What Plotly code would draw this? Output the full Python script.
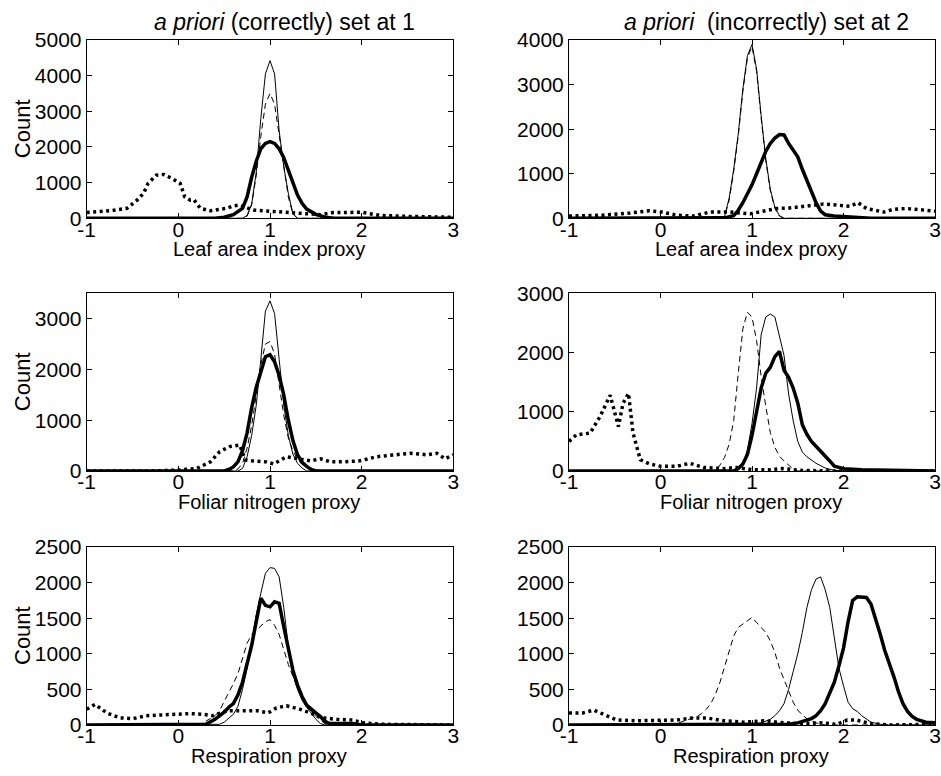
import plotly.graph_objects as go

# ---------------- data ----------------
# Top-left: Leaf area index proxy, a priori set at 1
tl_thin_x = [-1, 0.7, 0.75, 0.8, 0.85, 0.9, 0.95, 1.0, 1.05, 1.1, 1.15, 1.2, 1.25, 1.3, 3]
tl_thin_y = [0, 0, 80, 400, 1300, 2800, 4050, 4420, 4050, 2450, 1450, 700, 130, 0, 0]
tl_dash_x = [-1, 0.7, 0.75, 0.8, 0.85, 0.9, 0.95, 1.0, 1.05, 1.1, 1.15, 1.2, 1.25, 1.3, 3]
tl_dash_y = [0, 0, 60, 380, 1200, 2300, 3200, 3500, 3200, 2300, 1350, 600, 120, 0, 0]
tl_thick_x = [-1, 0.4, 0.5, 0.6, 0.7, 0.75, 0.8, 0.85, 0.9, 0.95, 1.0, 1.05, 1.1, 1.15, 1.2, 1.25, 1.3, 1.35, 1.4, 1.5, 1.6, 1.7, 3]
tl_thick_y = [0, 0, 30, 100, 280, 600, 1150, 1600, 1950, 2100, 2150, 2100, 1950, 1700, 1350, 1000, 650, 420, 260, 110, 30, 0, 0]
tl_dot_x = [-1, -0.75, -0.56, -0.45, -0.38, -0.33, -0.24, -0.16, -0.07, 0.02, 0.07, 0.13, 0.17, 0.24, 0.35, 0.53, 0.6, 0.67, 0.82, 0.96, 1.15, 1.33, 1.55, 1.69, 2.0, 2.2, 2.56, 3]
tl_dot_y = [160, 210, 280, 510, 700, 980, 1210, 1230, 1120, 980, 600, 510, 520, 280, 210, 280, 350, 370, 230, 200, 170, 140, 100, 160, 170, 80, 50, 30]

# Top-right: Leaf area index proxy, a priori set at 2
tr_thin_x = [-1, 0.65, 0.7, 0.75, 0.8, 0.85, 0.9, 0.95, 1.0, 1.05, 1.1, 1.15, 1.2, 1.25, 1.3, 1.35, 3]
tr_thin_y = [0, 0, 40, 450, 1100, 1900, 2900, 3650, 3900, 3350, 2300, 1350, 650, 250, 60, 0, 0]
tr_dash_x = [-1, 0.65, 0.7, 0.75, 0.8, 0.85, 0.9, 0.95, 1.0, 1.05, 1.1, 1.15, 1.2, 1.25, 1.3, 1.35, 3]
tr_dash_y = [0, 0, 30, 400, 1050, 1850, 2850, 3600, 3850, 3300, 2250, 1300, 620, 220, 50, 0, 0]
tr_thick_x = [-1, 0.6, 0.7, 0.8, 0.85, 0.9, 0.95, 1.0, 1.05, 1.1, 1.15, 1.2, 1.25, 1.3, 1.35, 1.4, 1.45, 1.5, 1.55, 1.6, 1.65, 1.7, 1.75, 1.8, 1.9, 2.0, 2.1, 2.2, 2.3, 3]
tr_thick_y = [0, 0, 10, 60, 180, 350, 540, 750, 1000, 1250, 1500, 1680, 1800, 1880, 1870, 1680, 1530, 1380, 1100, 850, 600, 350, 160, 80, 50, 40, 30, 10, 0, 0]
tr_dot_x = [-1, -0.63, -0.33, -0.12, 0.01, 0.18, 0.36, 0.54, 0.76, 0.98, 1.12, 1.27, 1.41, 1.6, 1.78, 1.96, 2.07, 2.16, 2.25, 2.44, 2.54, 2.69, 2.87, 3]
tr_dot_y = [50, 70, 120, 170, 140, 70, 50, 140, 140, 100, 160, 220, 230, 270, 320, 290, 270, 350, 220, 140, 200, 220, 180, 160]

# Middle-left: Foliar nitrogen proxy, a priori set at 1
ml_thin_x = [-1, 0.65, 0.7, 0.75, 0.8, 0.85, 0.9, 0.95, 1.0, 1.05, 1.1, 1.15, 1.2, 1.25, 1.3, 1.35, 1.4, 3]
ml_thin_y = [0, 0, 50, 280, 700, 1300, 2200, 3150, 3350, 3100, 2200, 1300, 700, 330, 150, 60, 0, 0]
ml_dash_x = [-1, 0.6, 0.65, 0.7, 0.75, 0.8, 0.85, 0.9, 0.95, 1.0, 1.05, 1.1, 1.15, 1.2, 1.25, 1.3, 1.35, 1.4, 1.5, 1.6, 3]
ml_dash_y = [0, 0, 40, 150, 450, 900, 1500, 2100, 2500, 2550, 2300, 1700, 1100, 650, 400, 230, 130, 70, 20, 0, 0]
ml_thick_x = [-1, 0.5, 0.55, 0.6, 0.65, 0.7, 0.75, 0.8, 0.85, 0.9, 0.95, 1.0, 1.05, 1.1, 1.15, 1.2, 1.25, 1.3, 1.35, 1.4, 1.45, 1.5, 3]
ml_thick_y = [0, 0, 30, 80, 180, 400, 750, 1250, 1650, 1950, 2250, 2290, 2150, 1880, 1500, 1000, 600, 320, 170, 90, 30, 0, 0]
ml_dot_x = [-1, -0.3, 0.02, 0.2, 0.35, 0.45, 0.56, 0.67, 0.73, 0.8, 0.96, 1.04, 1.18, 1.29, 1.44, 1.55, 1.66, 1.8, 1.98, 2.16, 2.35, 2.53, 2.71, 2.82, 2.91, 3]
ml_dot_y = [0, 0, 20, 50, 180, 380, 480, 510, 220, 200, 180, 140, 280, 240, 200, 240, 180, 180, 200, 280, 320, 350, 320, 350, 240, 320]

# Middle-right: Foliar nitrogen proxy, a priori set at 2
mr_thin_x = [-1, 0.8, 0.85, 0.9, 0.95, 1.0, 1.05, 1.1, 1.15, 1.2, 1.25, 1.3, 1.35, 1.4, 1.45, 1.5, 1.55, 1.6, 1.7, 1.8, 1.9, 2.0, 3]
mr_thin_y = [0, 0, 30, 120, 350, 800, 1400, 2300, 2600, 2650, 2600, 2300, 1950, 1300, 850, 500, 320, 240, 130, 50, 10, 0, 0]
mr_dash_x = [-1, 0.6, 0.65, 0.7, 0.75, 0.8, 0.85, 0.9, 0.95, 1.0, 1.05, 1.1, 1.15, 1.2, 1.25, 1.3, 1.35, 1.4, 1.45, 1.5, 3]
mr_dash_y = [0, 0, 100, 230, 450, 850, 1650, 2400, 2680, 2600, 2200, 1600, 1100, 650, 400, 250, 170, 100, 30, 0, 0]
mr_thick_x = [-1, 0.8, 0.85, 0.9, 0.95, 1.0, 1.05, 1.1, 1.15, 1.2, 1.25, 1.3, 1.35, 1.4, 1.45, 1.5, 1.55, 1.6, 1.65, 1.7, 1.75, 1.8, 1.85, 1.9, 2.0, 2.2, 2.5, 2.6, 3]
mr_thick_y = [0, 0, 40, 120, 280, 600, 1000, 1400, 1650, 1750, 1930, 2020, 1700, 1580, 1400, 1150, 780, 620, 500, 420, 350, 270, 170, 80, 40, 20, 15, 0, 0]
mr_dot_x = [-1, -0.92, -0.77, -0.66, -0.55, -0.5, -0.46, -0.41, -0.35, -0.3, -0.22, -0.12, 0.0, 0.18, 0.32, 0.47, 0.69, 0.83, 1.01, 1.19, 1.33, 1.55, 1.91, 3]
mr_dot_y = [500, 610, 640, 920, 1280, 970, 750, 1140, 1310, 640, 190, 120, 80, 80, 130, 60, 40, 60, 20, 20, 40, 10, 0, 0]

# Bottom-left: Respiration proxy, a priori set at 1
bl_thin_x = [-1, 0.4, 0.45, 0.5, 0.55, 0.6, 0.65, 0.7, 0.75, 0.8, 0.85, 0.9, 0.95, 1.0, 1.05, 1.1, 1.15, 1.2, 1.25, 1.3, 1.35, 1.4, 1.45, 1.5, 1.55, 1.6, 3]
bl_thin_y = [0, 0, 10, 40, 90, 150, 260, 500, 800, 1200, 1550, 1850, 2130, 2210, 2200, 2080, 1650, 1100, 720, 500, 350, 250, 160, 80, 20, 0, 0]
bl_dash_x = [-1, 0.2, 0.25, 0.3, 0.35, 0.4, 0.45, 0.5, 0.55, 0.6, 0.65, 0.7, 0.75, 0.8, 0.85, 0.9, 0.95, 1.0, 1.05, 1.1, 1.15, 1.2, 1.25, 1.3, 1.35, 1.4, 1.45, 1.5, 1.55, 1.6, 1.65, 3]
bl_dash_y = [0, 0, 20, 50, 90, 130, 200, 330, 450, 580, 720, 950, 1150, 1270, 1330, 1380, 1450, 1480, 1400, 1270, 1050, 850, 680, 530, 380, 270, 190, 120, 70, 20, 0, 0]
bl_thick_x = [-1, 0.2, 0.3, 0.4, 0.5, 0.55, 0.6, 0.65, 0.7, 0.75, 0.8, 0.85, 0.9, 0.95, 1.0, 1.05, 1.1, 1.15, 1.2, 1.25, 1.3, 1.35, 1.4, 1.45, 1.5, 1.55, 1.6, 1.65, 1.9, 2.0, 3]
bl_thick_y = [0, 0, 10, 80, 180, 250, 300, 420, 600, 860, 1120, 1450, 1780, 1680, 1660, 1730, 1710, 1380, 1050, 770, 560, 400, 280, 220, 170, 120, 50, 20, 20, 0, 0]
bl_dot_x = [-1, -0.91, -0.78, -0.64, -0.49, -0.35, -0.2, -0.02, 0.13, 0.27, 0.38, 0.53, 0.67, 0.86, 0.98, 1.07, 1.18, 1.33, 1.44, 1.58, 1.73, 1.9, 2.02, 2.2, 3]
bl_dot_y = [220, 290, 170, 100, 90, 130, 140, 150, 160, 150, 130, 200, 200, 200, 170, 240, 270, 220, 170, 100, 80, 70, 30, 10, 0]

# Bottom-right: Respiration proxy, a priori set at 2
br_thin_x = [-1, 1.0, 1.1, 1.2, 1.25, 1.3, 1.35, 1.4, 1.45, 1.5, 1.55, 1.6, 1.65, 1.7, 1.75, 1.8, 1.85, 1.9, 1.95, 2.0, 2.05, 2.1, 2.15, 2.2, 2.25, 2.3, 2.4, 2.5, 3]
br_thin_y = [0, 0, 30, 80, 130, 200, 300, 500, 750, 1000, 1300, 1650, 1900, 2050, 2080, 1900, 1650, 1250, 800, 550, 320, 230, 190, 130, 80, 40, 10, 0, 0]
br_dash_x = [-1, 0.1, 0.2, 0.3, 0.4, 0.45, 0.5, 0.55, 0.6, 0.65, 0.7, 0.75, 0.8, 0.85, 0.9, 0.95, 1.0, 1.05, 1.1, 1.15, 1.2, 1.25, 1.3, 1.35, 1.4, 1.45, 1.5, 1.55, 1.6, 1.7, 1.8, 3]
br_dash_y = [0, 0, 30, 70, 120, 160, 220, 300, 430, 600, 820, 1040, 1250, 1370, 1420, 1470, 1510, 1440, 1370, 1300, 1180, 1020, 800, 650, 480, 320, 210, 140, 90, 30, 0, 0]
br_thick_x = [-1, 1.3, 1.4, 1.5, 1.55, 1.6, 1.65, 1.7, 1.75, 1.8, 1.85, 1.9, 1.95, 2.0, 2.05, 2.1, 2.15, 2.2, 2.25, 2.3, 2.35, 2.4, 2.45, 2.5, 2.55, 2.6, 2.65, 2.7, 2.75, 2.8, 2.9, 3.0]
br_thick_y = [0, 0, 10, 30, 50, 60, 90, 130, 200, 300, 450, 600, 830, 1080, 1450, 1750, 1800, 1800, 1790, 1700, 1500, 1280, 1050, 880, 680, 470, 300, 190, 120, 80, 40, 30]
br_dot_x = [-1, -0.85, -0.73, -0.63, -0.48, -0.26, -0.04, 0.18, 0.36, 0.5, 0.69, 0.91, 1.13, 1.35, 1.53, 1.75, 1.93, 2.04, 2.14, 2.29, 2.5, 3]
br_dot_y = [170, 170, 210, 150, 70, 60, 60, 70, 100, 100, 60, 40, 60, 30, 20, 30, 10, 70, 70, 20, 0, 10]

x_ticks = [-1, 0, 1, 2, 3]
y_ranges = [5000, 4000, 3500, 3000, 2500, 2500]
y_tick_sets = [
    [0, 1000, 2000, 3000, 4000, 5000],
    [0, 1000, 2000, 3000, 4000],
    [0, 1000, 2000, 3000],
    [0, 1000, 2000, 3000],
    [0, 500, 1000, 1500, 2000, 2500],
    [0, 500, 1000, 1500, 2000, 2500],
]
x_labels = ["Leaf area index proxy", "Leaf area index proxy",
            "Foliar nitrogen proxy", "Foliar nitrogen proxy",
            "Respiration proxy", "Respiration proxy"]
titles = ["<i>a priori</i> (correctly) set at 1", "<i>a priori</i>  (incorrectly) set at 2"]
y_label = "Count"

panels = [
    (tl_thin_x, tl_thin_y, tl_dash_x, tl_dash_y, tl_thick_x, tl_thick_y, tl_dot_x, tl_dot_y),
    (tr_thin_x, tr_thin_y, tr_dash_x, tr_dash_y, tr_thick_x, tr_thick_y, tr_dot_x, tr_dot_y),
    (ml_thin_x, ml_thin_y, ml_dash_x, ml_dash_y, ml_thick_x, ml_thick_y, ml_dot_x, ml_dot_y),
    (mr_thin_x, mr_thin_y, mr_dash_x, mr_dash_y, mr_thick_x, mr_thick_y, mr_dot_x, mr_dot_y),
    (bl_thin_x, bl_thin_y, bl_dash_x, bl_dash_y, bl_thick_x, bl_thick_y, bl_dot_x, bl_dot_y),
    (br_thin_x, br_thin_y, br_dash_x, br_dash_y, br_thick_x, br_thick_y, br_dot_x, br_dot_y),
]

# ---------------- layout geometry (pixels) ----------------
W, H = 941, 776
col_px = [(86.7, 453.3), (569, 935)]
row_px = [(40, 218.3), (293.3, 471), (547, 725)]

FONT = "Liberation Sans, Arial, Helvetica, sans-serif"
FS_TICK = 21
FS_XLAB = 20
FS_YLAB = 22
FS_TITLE = 23

fig = go.Figure()
layout = dict(
    width=W, height=H, margin=dict(l=0, r=0, t=0, b=0),
    paper_bgcolor="white", plot_bgcolor="white", showlegend=False,
    font=dict(family=FONT, size=FS_TICK, color="black"),
)
annotations = []

for i, p in enumerate(panels):
    r, c = divmod(i, 2)
    n = i + 1
    xa = "x" if n == 1 else f"x{n}"
    ya = "y" if n == 1 else f"y{n}"
    thin_x, thin_y, dash_x, dash_y, thick_x, thick_y, dot_x, dot_y = p
    fig.add_trace(go.Scatter(x=dot_x, y=dot_y, mode="lines", xaxis=xa, yaxis=ya,
                             line=dict(color="black", width=3.5, dash="3px,3.5px")))
    fig.add_trace(go.Scatter(x=dash_x, y=dash_y, mode="lines", xaxis=xa, yaxis=ya,
                             line=dict(color="black", width=1, dash="6px,4px")))
    fig.add_trace(go.Scatter(x=thin_x, y=thin_y, mode="lines", xaxis=xa, yaxis=ya,
                             line=dict(color="black", width=1)))
    fig.add_trace(go.Scatter(x=thick_x, y=thick_y, mode="lines", xaxis=xa, yaxis=ya,
                             line=dict(color="black", width=3.5)))

    x0, x1 = col_px[c]
    y0, y1 = row_px[r]
    axis_common = dict(showgrid=False, zeroline=False, showline=True, linecolor="black",
                       linewidth=1, mirror="allticks", ticks="inside", ticklen=5,
                       tickcolor="black", tickwidth=1, automargin=False,
                       tickfont=dict(family=FONT, size=FS_TICK, color="black"))
    layout["xaxis" if n == 1 else f"xaxis{n}"] = dict(
        domain=[x0 / W, x1 / W], range=[-1, 3], tickmode="array",
        tickvals=x_ticks, ticktext=[str(v) for v in x_ticks],
        ticklabelstandoff=-8, anchor=ya, **axis_common)
    layout["yaxis" if n == 1 else f"yaxis{n}"] = dict(
        domain=[1 - y1 / H, 1 - y0 / H], range=[0, y_ranges[i]], tickmode="array",
        tickvals=y_tick_sets[i], ticktext=[str(v) for v in y_tick_sets[i]],
        anchor=xa, **axis_common)

    # x label
    annotations.append(dict(text=x_labels[i], x=((x0 + x1) / 2 - 1) / W, y=1 - (y1 + 31) / H,
                            xref="paper", yref="paper", showarrow=False,
                            xanchor="center", yanchor="middle",
                            font=dict(family=FONT, size=FS_XLAB, color="black")))
    if c == 0:
        annotations.append(dict(text=y_label, x=22 / W, y=1 - ((y0 + y1) / 2) / H,
                                xref="paper", yref="paper", showarrow=False, textangle=-90,
                                xanchor="center", yanchor="middle",
                                font=dict(family=FONT, size=FS_YLAB, color="black")))

for c, t in enumerate(titles):
    x0, x1 = col_px[c]
    annotations.append(dict(text=t, x=((x0 + x1) / 2 + 14) / W, y=1 - 22 / H,
                            xref="paper", yref="paper", showarrow=False,
                            xanchor="center", yanchor="middle",
                            font=dict(family=FONT, size=FS_TITLE, color="black")))

layout["annotations"] = annotations
fig.update_layout(**layout)
fig.write_html("out.html",
               post_script="document.body.style.margin='0';document.body.style.padding='0';")
